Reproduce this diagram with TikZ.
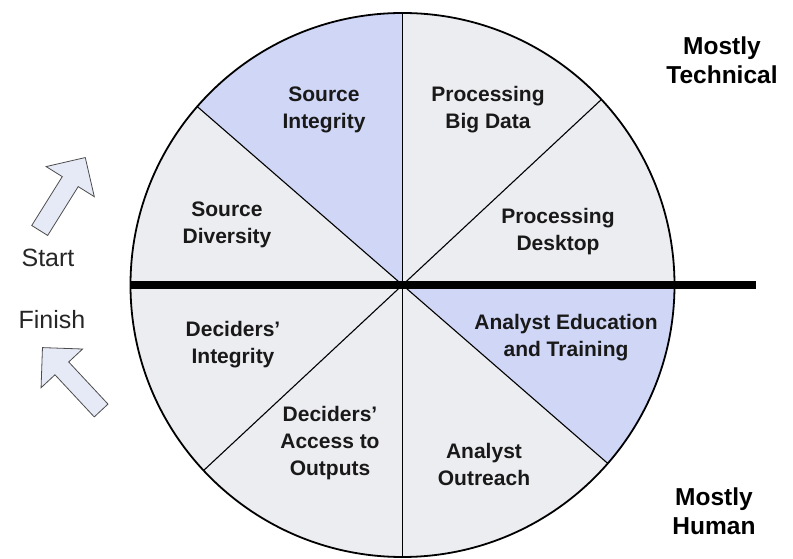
\documentclass[tikz,border=0pt]{standalone}
\usepackage{fontspec}
\setmainfont{Liberation Sans}
\usetikzlibrary{shapes.arrows}
\definecolor{lav}{RGB}{208,214,246}
\definecolor{pale}{RGB}{236,237,241}
\definecolor{arrowfill}{RGB}{230,234,246}
\tikzset{
  seclabel/.style={font=\bfseries\fontsize{21}{27}\selectfont, align=center, text=black!90},
  cornerlabel/.style={font=\bfseries\fontsize{24.5}{29}\selectfont, align=center},
  sidelabel/.style={font=\fontsize{25}{28}\selectfont, text=black!85},
  blockarrow/.style={single arrow, draw=black!70, fill=arrowfill, line width=0.8pt,
    inner sep=0pt, inner ysep=9pt, single arrow head extend=19pt,
    single arrow tip angle=90, minimum height=86pt},
  divider/.style={line width=1.1pt},
}
\begin{document}
\begin{tikzpicture}[x=1pt,y=1pt]
\useasboundingbox (0,0) rectangle (793,559);
\coordinate (C) at (402.5,274);
\def\R{272}
% disc, with two highlighted sectors
\fill[pale] (C) circle[radius=\R];
\fill[lav] (C) -- ++(90:\R) arc[start angle=90, end angle=139, radius=\R] -- cycle;
\fill[lav] (C) -- ++(-41:\R) arc[start angle=-41, end angle=0, radius=\R] -- cycle;
% sector boundaries
\foreach \a in {43,90,139,223,270,319}{
  \draw[divider] (C) -- ++(\a:\R);
}
\draw[line width=1.8pt] (C) circle[radius=\R];
% horizontal divide between technical and human halves
\coordinate (barL) at (130,274);
\coordinate (barR) at (756,274);
\draw[line width=8.5pt] (barL) -- (barR);

% sector labels
\node[seclabel] (si) at (324,449) {Source\\Integrity};
\node[seclabel] (pbd) at (488,449) {Processing\\Big Data};
\node[seclabel] (pd) at (558,327) {Processing\\Desktop};
\node[seclabel] (sd) at (227,334) {Source\\Diversity};
\node[seclabel] (di) at (233,214) {Deciders'\\Integrity};
\node[seclabel] (aet) at (566,221) {Analyst Education\\and Training};
\node[seclabel] (dao) at (330,116) {Deciders'\\Access to\\Outputs};
\node[seclabel] (ao) at (484,95) {Analyst\\Outreach};

% corner labels
\node[cornerlabel] (tech) at (722,499) {Mostly\\Technical};
\node[cornerlabel] (hum) at (714,48) {Mostly\\Human};

% start / finish
\node[sidelabel] (start) at (48,301) {Start};
\node[sidelabel] (finish) at (52,239) {Finish};
\node[blockarrow, rotate=58] (upR) at (60,361) {};
\node[blockarrow, rotate=133] (upL) at (75,176.5) {};
\end{tikzpicture}
\end{document}
